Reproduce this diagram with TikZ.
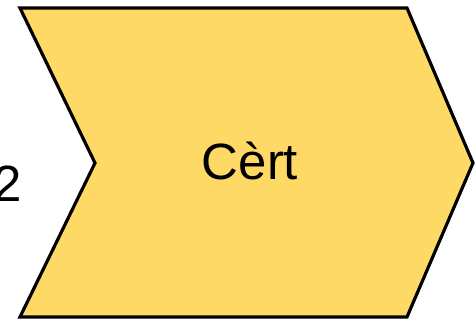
\documentclass[tikz,border=0pt]{standalone}
\usepackage{fontspec}
\setmainfont{Liberation Sans}
\definecolor{chevfill}{HTML}{FFD966}
\tikzset{
  chev/.style={draw=black, line width=3.2pt, fill=chevfill, line join=miter},
  lbl/.style={font=\fontsize{51}{60}\selectfont, text=black, inner sep=0pt}
}
\begin{document}
\begin{tikzpicture}[x=1pt,y=-1pt]
\useasboundingbox (0,0) rectangle (475,324);
\coordinate (tl) at (20,8);
\coordinate (tr) at (407,8);
\coordinate (rp) at (473,163);
\coordinate (br) at (407,317);
\coordinate (bl) at (20,317);
\coordinate (np) at (95,163);
\draw[chev] (tl) -- (tr) -- (rp) -- (br) -- (bl) -- (np) -- cycle;
\node[lbl, anchor=base] (t) at (250,179) {Cèrt};
\node[lbl, anchor=base east] (two) at (22,201) {2};
\end{tikzpicture}
\end{document}
